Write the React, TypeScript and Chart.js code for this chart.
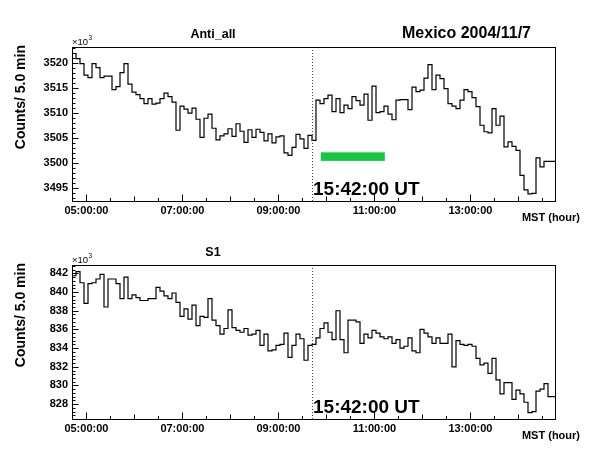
import React, { useEffect, useRef } from 'react';
import { Chart, registerables } from 'chart.js';

Chart.register(...registerables);

// ---- data ----
const START_HOUR = 4.7; // first 5-min bin starts at 04:42 MST
const BIN_MINUTES = 5;
const N_BINS = 121;
const X_MIN = START_HOUR;
const X_MAX = START_HOUR + (N_BINS * BIN_MINUTES) / 60;

const X_TICKS = [5, 7, 9, 11, 13];
const X_TICK_LABELS = ['05:00:00', '07:00:00', '09:00:00', '11:00:00', '13:00:00'];
const X_MINOR_STEP = 0.5;

const EVENT_HOUR = 9.7; // 15:42:00 UT
const EVENT_LABEL = '15:42:00 UT';
const CHART_TITLE = 'Mexico 2004/11/7';
const X_TITLE = 'MST (hour)';
const Y_TITLE = 'Counts/ 5.0 min';

const ANTI_ALL = [
  3519.8, 3521.8, 3520.8, 3519.8, 3517.5, 3517.0, 3519.8, 3519.0, 3517.0, 3517.3,
  3517.3, 3514.6, 3515.2, 3518.0, 3519.8, 3515.7, 3514.1, 3513.6, 3512.8, 3511.8,
  3512.8, 3511.7, 3511.9, 3512.8, 3513.9, 3513.2, 3512.1, 3506.5, 3511.3, 3510.7,
  3509.9, 3510.9, 3508.7, 3505.1, 3508.9, 3509.7, 3506.9, 3504.6, 3505.4, 3505.8,
  3506.8, 3505.3, 3507.8, 3506.3, 3504.1, 3506.6, 3505.1, 3506.7, 3506.1, 3504.4,
  3505.8, 3504.0, 3505.2, 3505.4, 3502.0, 3501.5, 3503.1, 3505.7, 3504.8, 3502.9,
  3505.5, 3504.5, 3512.5, 3511.8, 3512.8, 3513.5, 3510.2, 3512.8, 3510.0, 3511.5,
  3510.8, 3513.2, 3512.4, 3511.5, 3513.7, 3508.5, 3515.3, 3510.0, 3510.2, 3511.3,
  3509.7, 3508.6, 3512.5, 3512.6, 3512.6, 3510.6, 3515.1, 3514.2, 3514.5, 3516.9,
  3519.6, 3514.6, 3517.5, 3516.8, 3514.8, 3511.8, 3511.3, 3510.8, 3512.5, 3514.6,
  3514.2, 3513.0, 3511.2, 3507.5, 3506.2, 3506.0, 3510.8, 3507.5, 3509.3, 3503.2,
  3504.2, 3503.3, 3502.5, 3497.5, 3494.6, 3493.8, 3493.9, 3501.0, 3499.2, 3500.3,
  3500.3,
];

const S1 = [
  841.3, 841.75, 842.2, 841.0, 838.8, 840.9, 841.0, 841.4, 841.9, 838.4,
  841.4, 841.4, 840.9, 839.3, 841.6, 839.3, 839.7, 839.4, 839.1, 839.1,
  839.3, 839.3, 840.5, 840.1, 839.6, 839.3, 839.9, 838.9, 837.4, 838.2,
  837.1, 838.6, 836.4, 837.4, 837.3, 839.3, 837.0, 836.4, 835.5, 836.1,
  838.1, 836.2, 835.9, 835.7, 836.1, 835.4, 835.5, 835.9, 834.3, 835.5,
  833.7, 833.8, 834.3, 834.4, 835.6, 833.0, 834.3, 835.5, 835.0, 832.7,
  834.3, 834.4, 835.1, 836.1, 836.7, 835.7, 834.9, 838.0, 834.9, 833.5,
  837.0, 837.0, 836.8, 834.5, 835.5, 835.1, 835.9, 835.6, 835.2, 835.0,
  835.2, 834.5, 834.9, 834.0, 834.2, 835.1, 833.7, 833.5, 836.0, 835.6,
  835.2, 834.5, 835.1, 834.5, 834.5, 835.5, 832.0, 834.8, 834.4, 834.3,
  834.4, 834.2, 832.9, 832.2, 832.4, 831.3, 832.9, 830.6, 829.1, 830.3,
  830.3, 828.5, 829.5, 829.1, 828.2, 827.1, 827.2, 829.4, 829.6, 830.2,
  828.8,
];

const ANTI_Y_MIN = 3492.2;
const ANTI_Y_MAX = 3523.1;
const ANTI_Y_TICKS = [3495, 3500, 3505, 3510, 3515, 3520];
const ANTI_Y_MINOR = 1;

const S1_Y_MIN = 826.3;
const S1_Y_MAX = 842.9;
const S1_Y_TICKS = [828, 830, 832, 834, 836, 838, 840, 842];
const S1_Y_MINOR = 0.4;

// green marker bar (hours / kilo-counts)
const GREEN_START = 9.883;
const GREEN_END = 11.217;
const GREEN_LOW = 3500.4;
const GREEN_HIGH = 3502.1;

const FONT = '"Liberation Sans", Arial, Helvetica, sans-serif';

function histPoints(values: number[]) {
  const pts = values.map((v, i) => ({ x: START_HOUR + (i * BIN_MINUTES) / 60, y: v }));
  pts.push({ x: START_HOUR + (values.length * BIN_MINUTES) / 60, y: values[values.length - 1] });
  return pts;
}

const decorPlugin = {
  id: 'decor',
  afterDatasetsDraw(chart: any, _args: any, opts: any) {
    const { ctx, chartArea: ca, scales } = chart;
    const xs = scales.x;
    const ys = scales.y;
    ctx.save();

    // green bar
    if (opts.green) {
      const g = opts.green;
      const x1 = xs.getPixelForValue(g.start);
      const x2 = xs.getPixelForValue(g.end);
      const y1 = ys.getPixelForValue(g.high);
      const y2 = ys.getPixelForValue(g.low);
      ctx.fillStyle = '#14c83f';
      ctx.fillRect(x1, y1, x2 - x1, y2 - y1);
    }

    // event dotted line
    const ex = Math.round(xs.getPixelForValue(EVENT_HOUR)) + 0.5;
    ctx.strokeStyle = '#444';
    ctx.lineWidth = 1;
    ctx.setLineDash([1, 2]);
    ctx.beginPath();
    ctx.moveTo(ex, ca.top);
    ctx.lineTo(ex, ca.bottom);
    ctx.stroke();
    ctx.setLineDash([]);

    // frame
    ctx.strokeStyle = '#000';
    ctx.lineWidth = 1;
    const L = Math.round(ca.left) + 0.5;
    const T = Math.round(ca.top) + 0.5;
    const R = Math.round(ca.right) - 0.5;
    const B = Math.round(ca.bottom) - 0.5;
    ctx.strokeRect(L, T, R - L, B - T);

    // x ticks (inward)
    ctx.beginPath();
    for (let h = Math.ceil(X_MIN / X_MINOR_STEP) * X_MINOR_STEP; h <= X_MAX; h += X_MINOR_STEP) {
      const x = Math.round(xs.getPixelForValue(h)) + 0.5;
      const major = X_TICKS.some((t) => Math.abs(t - h) < 1e-6);
      const len = major ? 7 : Math.abs(h - Math.round(h)) < 1e-6 ? 5 : 3.5;
      ctx.moveTo(x, B);
      ctx.lineTo(x, B - len);
    }
    // y ticks (inward)
    const yMin = ys.min;
    const yMax = ys.max;
    for (let v = Math.ceil(yMin / opts.yMinor - 1e-6) * opts.yMinor; v <= yMax; v += opts.yMinor) {
      const y = Math.round(ys.getPixelForValue(v)) + 0.5;
      const major = opts.yTicks.some((t: number) => Math.abs(t - v) < 1e-6);
      const len = major ? 6 : 3;
      ctx.moveTo(L, y);
      ctx.lineTo(L + len, y);
    }
    ctx.stroke();

    // texts
    ctx.fillStyle = '#000';
    ctx.textBaseline = 'alphabetic';

    // panel title
    ctx.font = `bold 12.5px ${FONT}`;
    ctx.textAlign = 'center';
    ctx.fillText(opts.title, 213, 38);

    // chart title
    if (opts.showMain) {
      ctx.font = `bold 16px ${FONT}`;
      ctx.textAlign = 'left';
      ctx.fillText(CHART_TITLE, 402, 38);
    }

    // x10^3
    ctx.textAlign = 'left';
    ctx.font = `9.5px ${FONT}`;
    ctx.fillText('\u00d710', 72, 45);
    const w = ctx.measureText('\u00d710').width;
    ctx.font = `6.5px ${FONT}`;
    ctx.fillText('3', 72 + w + 0.5, 39.5);

    // x title
    ctx.font = `bold 11px ${FONT}`;
    ctx.textAlign = 'right';
    ctx.fillText(X_TITLE, 580, 221);

    // y title
    ctx.save();
    ctx.translate(24.5, 45);
    ctx.rotate(-Math.PI / 2);
    ctx.font = `bold 14px ${FONT}`;
    ctx.textAlign = 'right';
    ctx.fillText(Y_TITLE, 0, 0);
    ctx.restore();

    // event label
    ctx.font = `bold 19px ${FONT}`;
    ctx.textAlign = 'left';
    ctx.fillText(EVENT_LABEL, ex + 0.5, 195);

    ctx.restore();
  },
};

type PanelProps = {
  values: number[];
  title: string;
  yMin: number;
  yMax: number;
  yTicks: number[];
  yMinor: number;
  showMain: boolean;
  green: any;
  top: number;
};

function Panel(p: PanelProps) {
  const ref = useRef<HTMLCanvasElement | null>(null);
  useEffect(() => {
    if (!ref.current) return;
    const chart = new Chart(ref.current, {
      type: 'line',
      data: {
        datasets: [
          {
            data: histPoints(p.values),
            borderColor: '#000',
            borderWidth: 1.2,
            pointRadius: 0,
            stepped: 'after',
            fill: false,
          } as any,
        ],
      },
      options: {
        animation: false,
        responsive: false,
        maintainAspectRatio: false,
        layout: { padding: { left: 0, right: 43, top: 47, bottom: 0 } },
        plugins: {
          legend: { display: false },
          tooltip: { enabled: false },
          decor: {
            title: p.title,
            yTicks: p.yTicks,
            yMinor: p.yMinor,
            showMain: p.showMain,
            green: p.green,
          },
        } as any,
        scales: {
          x: {
            type: 'linear',
            min: X_MIN,
            max: X_MAX,
            grid: { display: false, drawTicks: false },
            border: { display: false },
            afterBuildTicks: (axis: any) => {
              axis.ticks = X_TICKS.map((v) => ({ value: v }));
            },
            afterFit: (axis: any) => {
              axis.height = 27;
            },
            ticks: {
              autoSkip: false,
              maxRotation: 0,
              padding: 2,
              color: '#000',
              font: { family: FONT, size: 11, weight: 'bold' },
              callback: (_v: any, i: number) => X_TICK_LABELS[i],
            },
          },
          y: {
            type: 'linear',
            min: p.yMin,
            max: p.yMax,
            grid: { display: false, drawTicks: false },
            border: { display: false },
            afterBuildTicks: (axis: any) => {
              axis.ticks = p.yTicks.map((v) => ({ value: v }));
            },
            afterFit: (axis: any) => {
              axis.width = 72;
            },
            ticks: {
              padding: 4,
              color: '#000',
              font: { family: FONT, size: 11, weight: 'bold' },
              callback: (v: any) => String(v),
            },
          },
        } as any,
      },
      plugins: [decorPlugin],
    });
    return () => chart.destroy();
  }, []);
  return (
    <canvas
      ref={ref}
      width={599}
      height={229}
      style={{ position: 'absolute', left: 0, top: p.top, width: 599, height: 229 }}
    />
  );
}

export default function App() {
  return (
    <div style={{ position: 'absolute', left: 0, top: 0, width: 599, height: 458, background: '#fff' }}>
      <Panel
        values={ANTI_ALL}
        title="Anti_all"
        yMin={ANTI_Y_MIN}
        yMax={ANTI_Y_MAX}
        yTicks={ANTI_Y_TICKS}
        yMinor={ANTI_Y_MINOR}
        showMain={true}
        green={{ start: GREEN_START, end: GREEN_END, low: GREEN_LOW, high: GREEN_HIGH }}
        top={0}
      />
      <Panel
        values={S1}
        title="S1"
        yMin={S1_Y_MIN}
        yMax={S1_Y_MAX}
        yTicks={S1_Y_TICKS}
        yMinor={S1_Y_MINOR}
        showMain={false}
        green={null}
        top={218}
      />
    </div>
  );
}
